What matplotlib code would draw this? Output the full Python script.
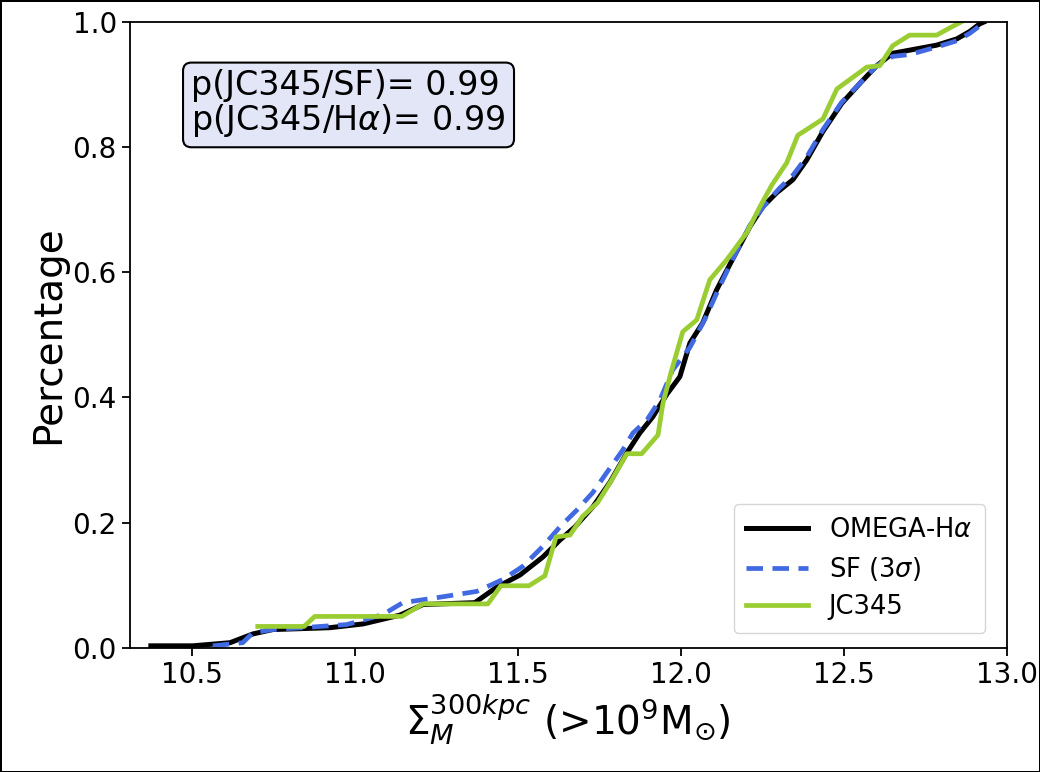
import numpy as np
import matplotlib
matplotlib.use("Agg")
import matplotlib.pyplot as plt

# cumulative curves
omega_x = [10.374, 10.503, 10.617, 10.687, 10.748, 10.923, 11.025, 11.138, 11.209,
           11.368, 11.436, 11.506, 11.577, 11.629, 11.675, 11.730, 11.782, 11.834,
           11.874, 11.914, 11.957, 11.997, 12.028, 12.067, 12.110, 12.160, 12.212,
           12.252, 12.294, 12.344, 12.387, 12.436, 12.494, 12.555, 12.601, 12.650,
           12.702, 12.785, 12.847, 12.887, 12.917, 12.930]
omega_y = [0.003, 0.003, 0.008, 0.022, 0.029, 0.032, 0.038, 0.052, 0.069,
           0.072, 0.097, 0.116, 0.145, 0.172, 0.193, 0.225, 0.264, 0.311,
           0.343, 0.369, 0.405, 0.433, 0.487, 0.519, 0.572, 0.622, 0.673,
           0.705, 0.727, 0.748, 0.780, 0.825, 0.870, 0.905, 0.930, 0.950,
           0.955, 0.963, 0.973, 0.985, 0.997, 1.000]

sf_x = [10.564, 10.656, 10.687, 10.748, 10.840, 10.975, 11.086, 11.147, 11.252,
        11.374, 11.454, 11.515, 11.577, 11.629, 11.681, 11.730, 11.773, 11.822,
        11.853, 11.896, 11.936, 11.975, 12.028, 12.074, 12.120, 12.166, 12.212,
        12.258, 12.304, 12.344, 12.387, 12.436, 12.494, 12.555, 12.601, 12.650,
        12.702, 12.785, 12.847, 12.887, 12.933]
sf_y = [0.003, 0.008, 0.024, 0.029, 0.032, 0.037, 0.053, 0.072, 0.080,
        0.090, 0.109, 0.130, 0.162, 0.193, 0.220, 0.248, 0.280, 0.316,
        0.343, 0.364, 0.396, 0.444, 0.480, 0.525, 0.578, 0.628, 0.675,
        0.708, 0.735, 0.755, 0.785, 0.828, 0.872, 0.905, 0.930, 0.945,
        0.948, 0.960, 0.970, 0.982, 1.000]

jc_x = [10.702, 10.844, 10.877, 11.144, 11.209, 11.408, 11.448, 11.534, 11.583,
        11.617, 11.660, 11.699, 11.745, 11.788, 11.834, 11.880, 11.930, 11.945,
        11.970, 12.006, 12.049, 12.089, 12.141, 12.202, 12.242, 12.280, 12.325,
        12.359, 12.436, 12.479, 12.571, 12.610, 12.650, 12.702, 12.785, 12.834,
        12.860]
jc_y = [0.034, 0.034, 0.050, 0.050, 0.070, 0.070, 0.099, 0.099, 0.115,
        0.177, 0.180, 0.210, 0.232, 0.268, 0.310, 0.310, 0.340, 0.390,
        0.440, 0.505, 0.524, 0.588, 0.620, 0.663, 0.704, 0.740, 0.775,
        0.819, 0.845, 0.893, 0.928, 0.930, 0.962, 0.979, 0.979, 0.993,
        1.000]

p_sf = 0.99
p_ha = 0.99

fig = plt.figure(figsize=(10.4, 7.72), dpi=100, edgecolor="black", linewidth=2)
ax = fig.add_axes([0.125, 0.161, 0.843, 0.8105])

ax.plot(omega_x, omega_y, color="black", lw=3.6, label=r"OMEGA-H$\alpha$")
ax.plot(sf_x, sf_y, color="royalblue", lw=3.4, ls=(0, (3.5, 2.0)), label=r"SF (3$\sigma$)")
ax.plot(jc_x, jc_y, color="yellowgreen", lw=3.4, label="JC345")

ax.set_xlim(10.31, 13.0)
ax.set_ylim(0.0, 1.0)
ax.set_xticks([10.5, 11.0, 11.5, 12.0, 12.5, 13.0])
ax.set_yticks(np.arange(0, 1.01, 0.2))
ax.tick_params(labelsize=20, width=1.3, length=6)
for s in ax.spines.values():
    s.set_linewidth(1.3)

ax.set_xlabel(r"$\Sigma_M^{300kpc}$ (>10$^9$M$_{\odot}$)", fontsize=28, labelpad=2)
ax.set_ylabel("Percentage", fontsize=28)

ax.text(0.07, 0.925, f"p(JC345/SF)= {p_sf:.2f}\n" + r"p(JC345/H$\alpha$)= " + f"{p_ha:.2f}",
        transform=ax.transAxes, fontsize=24, va="top", ha="left", linespacing=1.0,
        bbox=dict(boxstyle="round,pad=0.25", facecolor="#e3e6f6", edgecolor="black", lw=1.5))

ax.legend(loc="lower right", fontsize=18.5, handlelength=2.4, borderpad=0.5,
          labelspacing=0.45, bbox_to_anchor=(0.99, 0.003))

fig.savefig("out.png", dpi=100)
